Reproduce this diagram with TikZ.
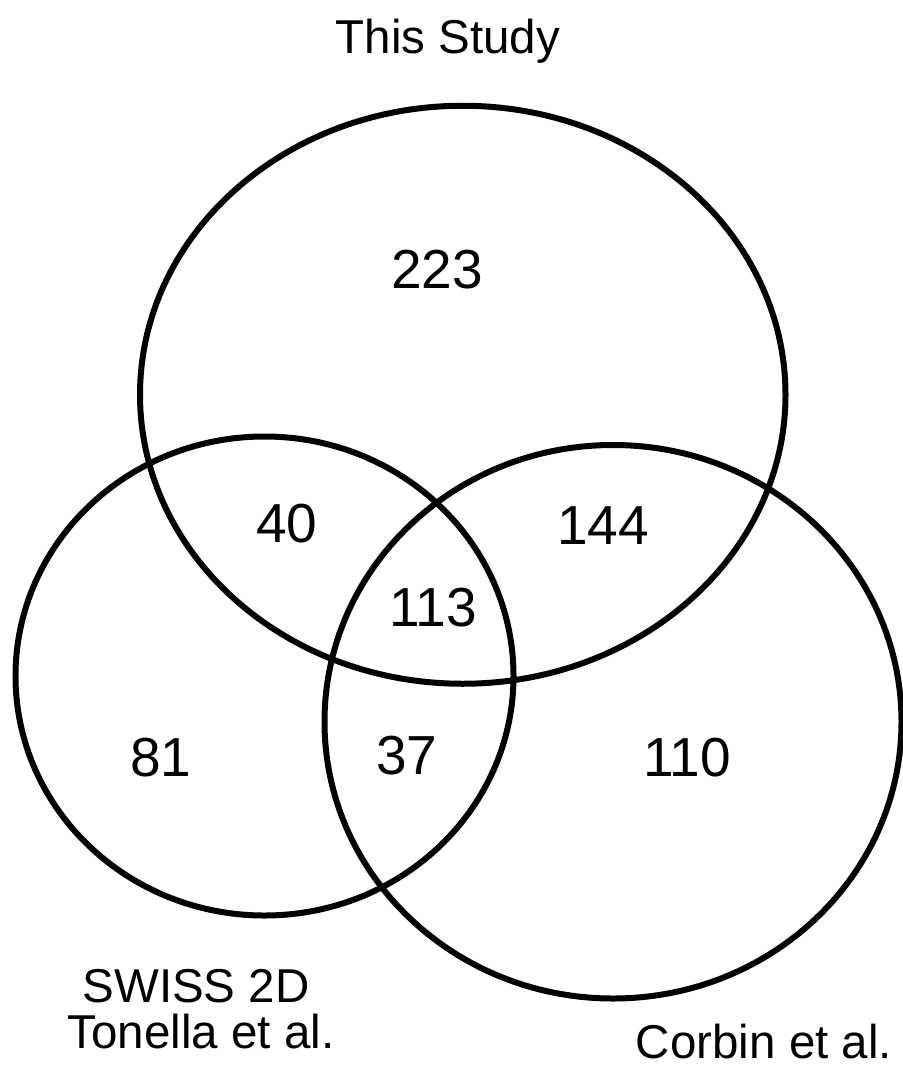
\documentclass[tikz,border=0pt]{standalone}
\usepackage{fontspec}
\setmainfont{Liberation Sans}
\tikzset{
  venn/.style={line width=6pt, draw=black},
  lbl/.style={anchor=base, inner sep=0pt, font=\fontsize{47.5}{52}\selectfont},
  num/.style={anchor=base, inner sep=0pt, font=\fontsize{55}{60}\selectfont}
}
\begin{document}
\begin{tikzpicture}[x=1pt,y=-1pt]
\useasboundingbox (0,0) rectangle (902,1078);
% sets
\draw[venn] (462.75,394.75) ellipse [x radius=322.75, y radius=289];
\draw[venn] (264.5,676) ellipse [x radius=249, y radius=239.5];
\draw[venn] (613,721.75) ellipse [x radius=288.5, y radius=276.75];
% titles
\node[lbl] (ts) at (448,54) {This Study};
\node[lbl] (sw) at (196,1002) {SWISS 2D};
\node[lbl] (to) at (201,1048) {Tonella et al.};
\node[lbl] (co) at (764,1058) {Corbin et al.};
% counts
\node[num] (n223) at (437,288) {223};
\node[num] (n40) at (287,542) {40};
\node[num] (n144) at (603,544) {144};
\node[num] (n113) at (433,626) {113};
\node[num] (n81) at (161,776) {81};
\node[num] (n37) at (407,774) {37};
\node[num] (n110) at (687,776) {110};
\end{tikzpicture}
\end{document}
